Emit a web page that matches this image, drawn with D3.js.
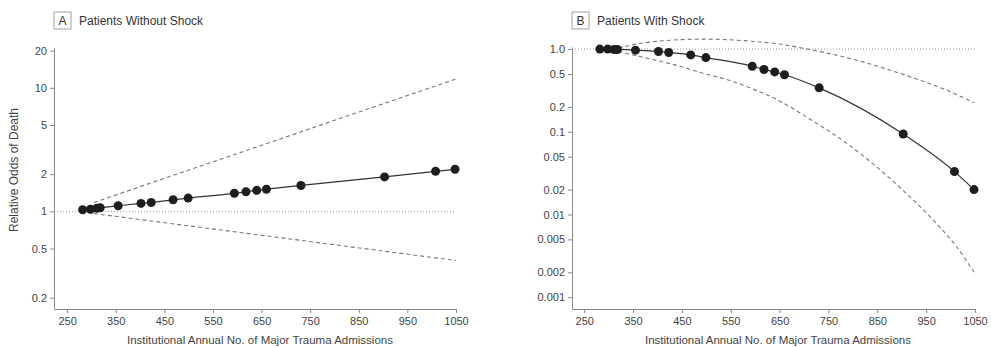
<!DOCTYPE html>
<html>
<head>
<meta charset="utf-8">
<script src="https://cdn.jsdelivr.net/npm/d3@7"></script>
<style>
  body { margin: 0; background: #fff; }
  text { font-family: "Liberation Sans", Arial, sans-serif; }
</style>
</head>
<body>
<div id="chart"></div>
<script>
// Hospital volumes (shared by both panels)
const volumes = [282, 298, 311, 318, 355, 402, 423, 468, 499, 594, 618, 640, 660, 731, 903, 1008, 1048];

// Panel A: patients without shock
const oddsA = [1.03, 1.04, 1.06, 1.07, 1.11, 1.16, 1.18, 1.24, 1.28, 1.40, 1.44, 1.48, 1.51, 1.62, 1.90, 2.11, 2.19];
const upperA = [[305, 1.18], [1050, 11.8]];
const lowerA = [[305, 0.96], [1050, 0.40]];

// Panel B: patients with shock
const oddsB = [1.0, 1.0, 0.99, 0.99, 0.97, 0.935, 0.91, 0.85, 0.79, 0.62, 0.567, 0.53, 0.49, 0.34, 0.094, 0.033, 0.020];
const upperB = [[320, 1.03], [357, 1.15], [398, 1.24], [446, 1.30], [493, 1.32], [541, 1.30], [589, 1.25],
    [650, 1.15], [718, 0.97], [787, 0.79], [855, 0.61], [923, 0.45], [991, 0.32], [1048, 0.225]];
const lowerB = [[320, 0.94], [357, 0.83], [398, 0.73], [446, 0.62], [493, 0.51], [541, 0.43], [589, 0.34],
    [650, 0.236], [718, 0.135], [776, 0.081], [827, 0.048], [875, 0.0276], [923, 0.0151], [971, 0.0078],
    [1012, 0.0041], [1048, 0.0020]];

// Tick values and labels
const xTicks = [250, 350, 450, 550, 650, 750, 850, 950, 1050];
const yTicksA = [0.2, 0.5, 1, 2, 5, 10, 20];
const yLabelsA = ["0.2", "0.5", "1", "2", "5", "10", "20"];
const yTicksB = [0.001, 0.002, 0.005, 0.01, 0.02, 0.05, 0.1, 0.2, 0.5, 1];
const yLabelsB = ["0.001", "0.002", "0.005", "0.01", "0.02", "0.05", "0.1", "0.2", "0.5", "1.0"];

const xTitle = "Institutional Annual No. of Major Trauma Admissions";

const svg = d3.select("#chart")
    .append("svg")
    .attr("width", 991)
    .attr("height", 347);

function drawPanel(p) {
    const g = svg.append("g");

    const x = d3.scaleLinear().domain(p.xDomain).range(p.xRange);
    const y = d3.scaleLog().domain(p.yDomain).range([309, p.yTop]);

    // axes
    const yAxis = g.append("g")
        .attr("transform", `translate(${p.xRange[0]},0)`)
        .call(d3.axisLeft(y).tickValues(p.yTicks).tickFormat((d, i) => p.yLabels[i])
            .tickSize(4).tickSizeOuter(0).tickPadding(3));
    const xAxis = g.append("g")
        .attr("transform", "translate(0,309)")
        .call(d3.axisBottom(x).tickValues(xTicks).tickFormat(d3.format("d"))
            .tickSize(4).tickSizeOuter(0).tickPadding(4));
    [xAxis, yAxis].forEach(a => {
        a.selectAll("path, line").attr("stroke", "#888");
        a.selectAll("text").attr("fill", "#444").style("font-size", "11px")
            .style("font-family", "'Liberation Sans', Arial, sans-serif");
    });

    // reference line at 1
    g.append("line")
        .attr("x1", p.xRange[0]).attr("x2", x(1050))
        .attr("y1", y(1)).attr("y2", y(1))
        .attr("stroke", "#999").attr("stroke-width", 1)
        .attr("stroke-dasharray", "1,2");

    const line = d3.line()
        .x(d => x(d[0]))
        .y(d => y(d[1]))
        .curve(d3.curveMonotoneX);

    [p.upper, p.lower].forEach(band => {
        g.append("path")
            .attr("d", line(band))
            .attr("fill", "none")
            .attr("stroke", "#777")
            .attr("stroke-width", 1.1)
            .attr("stroke-dasharray", "4,3");
    });

    const pts = volumes.map((v, i) => [v, p.odds[i]]);
    g.append("path")
        .attr("d", line(pts))
        .attr("fill", "none")
        .attr("stroke", "#333")
        .attr("stroke-width", 1.2);

    g.selectAll(".dot")
        .data(pts)
        .enter()
        .append("circle")
        .attr("cx", d => x(d[0]))
        .attr("cy", d => y(d[1]))
        .attr("r", 4.5)
        .attr("fill", "#1e1e1e");

    // panel label
    g.append("rect")
        .attr("x", p.boxX).attr("y", 12)
        .attr("width", 17).attr("height", 17)
        .attr("fill", "none").attr("stroke", "#888").attr("stroke-width", 0.8);
    g.append("text")
        .attr("x", p.boxX + 8.5).attr("y", 25)
        .attr("text-anchor", "middle")
        .style("font-size", "12px").attr("fill", "#333")
        .text(p.letter);
    g.append("text")
        .attr("x", p.boxX + 25).attr("y", 25)
        .style("font-size", "12px").attr("fill", "#333")
        .text(p.title);

    // x axis title
    g.append("text")
        .attr("x", p.titleX).attr("y", 344)
        .attr("text-anchor", "middle")
        .style("font-size", "11.5px").attr("fill", "#444")
        .text(xTitle);
}

drawPanel({
    xDomain: [223, 1050], xRange: [54, 456],
    yDomain: [0.162, 21], yTop: 48,
    yTicks: yTicksA, yLabels: yLabelsA,
    odds: oddsA, upper: upperA, lower: lowerA,
    boxX: 54, letter: "A", title: "Patients Without Shock", titleX: 260
});

drawPanel({
    xDomain: [225, 1050], xRange: [572, 975],
    yDomain: [0.00072, 1.06], yTop: 47,
    yTicks: yTicksB, yLabels: yLabelsB,
    odds: oddsB, upper: upperB, lower: lowerB,
    boxX: 572, letter: "B", title: "Patients With Shock", titleX: 778
});

// y axis title (panel A only)
svg.append("text")
    .attr("transform", "translate(18,170) rotate(-90)")
    .attr("text-anchor", "middle")
    .style("font-size", "12px").attr("fill", "#444")
    .text("Relative Odds of Death");
</script>
</body>
</html>
